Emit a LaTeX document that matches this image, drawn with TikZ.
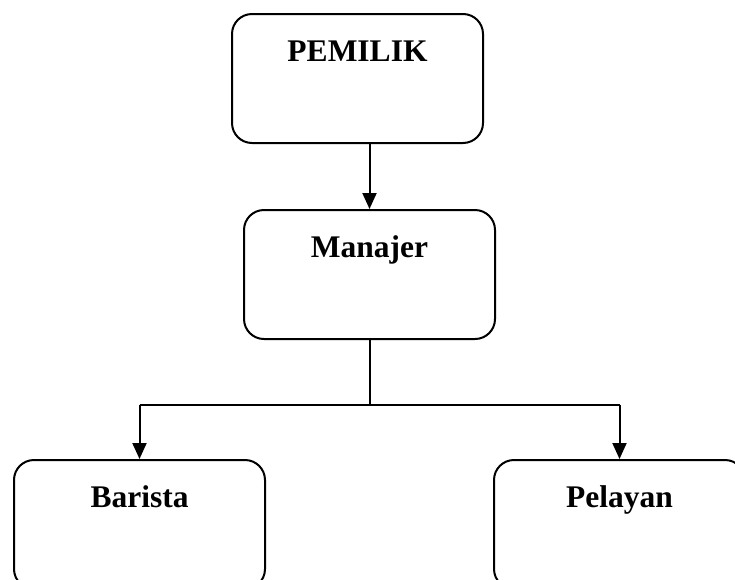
\documentclass[tikz,border=0pt]{standalone}
\usepackage{fontspec}
\setmainfont{Liberation Serif}
\usetikzlibrary{positioning}
\usetikzlibrary{arrows.meta}
\usetikzlibrary{calc}

\tikzset{
	jabatan/.style={draw,rectangle,rounded corners=20pt,line width=2pt,
		minimum width=251pt,minimum height=129pt,inner sep=10pt,
		text height=37pt,text depth=72pt,
		font=\fontsize{31.5}{36}\selectfont\bfseries},
	garis/.style={line width=2pt},
	panah/.style={garis,-{Triangle[length=16pt,width=14pt]}}
}

\begin{document}
\begin{tikzpicture}[x=1pt,y=-1pt]
	\clip (0,0) rectangle (735,579);
	\node (pemilik) [jabatan] at (357.5,78.5)                       {PEMILIK};
	\node (manajer) [jabatan,below=65pt of pemilik,xshift=12pt]    {Manajer};
	\node (barista) [jabatan,below=119pt of manajer,xshift=-230pt] {Barista};
	\node (pelayan) [jabatan,below=119pt of manajer,xshift=250pt]  {Pelayan};
	\coordinate (cabang) at ($(manajer.south)+(0,65)$);
	\draw[panah] (pemilik.south -| manajer.north) -- (manajer.north);
	\draw[garis] (manajer.south) -- (cabang);
	\draw[garis] (barista.north |- cabang) -- (pelayan.north |- cabang);
	\draw[panah] (barista.north |- cabang) -- (barista.north);
	\draw[panah] (pelayan.north |- cabang) -- (pelayan.north);
\end{tikzpicture}
\end{document}
